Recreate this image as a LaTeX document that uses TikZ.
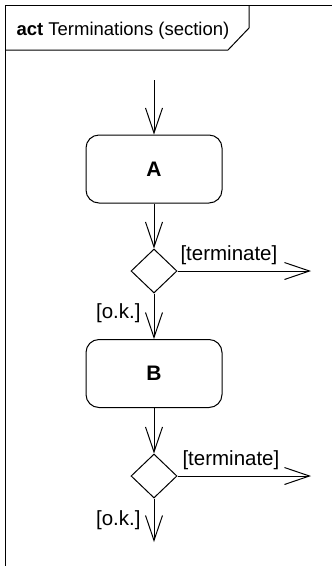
\documentclass[tikz,border=0pt]{standalone}
\usepackage{fontspec}
\setmainfont{Liberation Sans}
\usetikzlibrary{arrows.meta,shapes.geometric}
\begin{document}
\begin{tikzpicture}[x=1pt,y=-1pt, line width=1pt,
 flow/.style={-{Straight Barb[length=25pt,width=17pt,line width=1pt]}},
 action/.style={draw, rounded corners=13pt, minimum width=136pt, minimum height=68pt, inner sep=0pt, font=\fontsize{21}{24}\selectfont\bfseries},
 decision/.style={draw, diamond, minimum width=46pt, minimum height=44pt, inner sep=0pt},
 guard/.style={inner sep=0pt, font=\fontsize{20.5}{24}\selectfont}]
\useasboundingbox (0,0) rectangle (332,566);
\draw (332,5) -- (5,5) -- (5,566);
\draw (5,50) -- (228,50) -- (249,28) -- (249,5);
\node[anchor=base west, inner sep=0pt, font=\fontsize{18.5}{22}\selectfont] (title) at (16,35) {\textbf{act} Terminations (section)};
\coordinate (start) at (154,80);
\node[action] (A) at (154,169) {A};
\node[decision] (d1) at (154,271) {};
\node[action] (B) at (154,373.5) {B};
\node[decision] (d2) at (154,476) {};
\coordinate (t1) at (311,271);
\coordinate (t2) at (311,476);
\coordinate (end) at (154,542);
\draw[flow] (start) -- (A);
\draw[flow] (A) -- (d1);
\draw[flow] (d1) -- (B);
\draw[flow] (d1.east) -- (t1);
\draw[flow] (B) -- (d2);
\draw[flow] (d2.east) -- (t2);
\draw[flow] (d2) -- (end);
\node[guard, anchor=base west] (g1) at (180,260) {[terminate]};
\node[guard, anchor=base east] (g2) at (141,318) {[o.k.]};
\node[guard, anchor=base west] (g3) at (182,465) {[terminate]};
\node[guard, anchor=base east] (g4) at (141,525) {[o.k.]};
\end{tikzpicture}
\end{document}
